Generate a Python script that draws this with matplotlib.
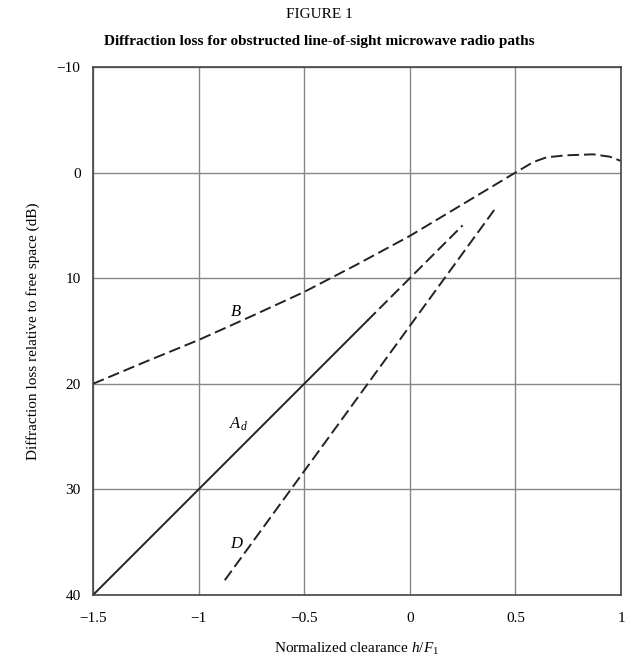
import matplotlib
matplotlib.use("Agg")
import matplotlib.pyplot as plt

plt.rcParams['font.family'] = ['Liberation Serif', 'DejaVu Serif']
plt.rcParams['mathtext.fontset'] = 'custom'
plt.rcParams['mathtext.rm'] = 'Liberation Serif'
plt.rcParams['mathtext.it'] = 'Liberation Serif:italic'

# кривая B
b_x = [-1.5, -1.25, -1.0, -0.75, -0.5, -0.25, 0.0, 0.25, 0.5, 0.53, 0.585, 0.648, 0.743, 0.869, 0.948, 1.0]
b_y = [20.0, 17.9, 15.85, 13.6, 11.3, 8.7, 6.0, 3.0, 0.0, -0.35, -1.0, -1.45, -1.64, -1.73, -1.5, -1.1]

# прямая Ad: сплошная часть и пунктирное продолжение
ad_solid_x = [-1.5, -0.2]
ad_solid_y = [40.0, 14.0]
ad_dash_x = [-0.2, 0.25]
ad_dash_y = [14.0, 5.0]

# прямая D
d_x = [-0.876, 0.403]
d_y = [38.6, 3.45]

x_ticks = [-1.5, -1.0, -0.5, 0.0, 0.5, 1.0]
x_labels = ['\u22121.5', '\u22121', '\u22120.5', '0', '0.5', '1']
y_ticks = [-10, 0, 10, 20, 30, 40]
y_labels = ['\u221210', '0', '10', '20', '30', '40']

fig = plt.figure(figsize=(6.38, 6.6), dpi=100)
ax = fig.add_axes([93 / 638, 1 - 595 / 660, 528 / 638, 528 / 660])

ax.plot(b_x, b_y, color='#222222', lw=1.4, dashes=(6, 2.5))
ax.plot(ad_solid_x, ad_solid_y, color='#222222', lw=1.4)
ax.plot(ad_dash_x, ad_dash_y, color='#222222', lw=1.4, dashes=(6, 2.5))
ax.plot(d_x, d_y, color='#222222', lw=1.4, dashes=(6, 2.5))

ax.text(-0.823, 13.2, '$B$', fontsize=12, ha='center', va='center')
ax.text(-0.813, 23.8, '$A_d$', fontsize=12, ha='center', va='center')
ax.text(-0.817, 35.2, '$D$', fontsize=12, ha='center', va='center')

ax.set_xlim(-1.5, 1.0)
ax.set_ylim(40, -10)
ax.set_xticks(x_ticks)
ax.set_xticklabels(x_labels)
ax.set_yticks(y_ticks)
ax.set_yticklabels(y_labels)
ax.tick_params(length=0, labelsize=11)
ax.tick_params(axis='x', pad=12)
ax.tick_params(axis='y', pad=9)
ax.grid(True, color='#888888', lw=1)
for s in ax.spines.values():
    s.set_color('#444444')
    s.set_linewidth(1.2)

ax.set_xlabel('Normalized clearance $h$/$F_1$', fontsize=11, labelpad=12)
ax.set_ylabel('Diffraction loss relative to free space (dB)', fontsize=11, labelpad=12)

fig.text(0.5, 1 - 14 / 660, 'FIGURE 1', ha='center', va='center', fontsize=11)
fig.text(0.5, 1 - 42 / 660, 'Diffraction loss for obstructed line-of-sight microwave radio paths',
         ha='center', va='center', fontsize=11, fontweight='bold')

fig.savefig('out.png', dpi=100)
